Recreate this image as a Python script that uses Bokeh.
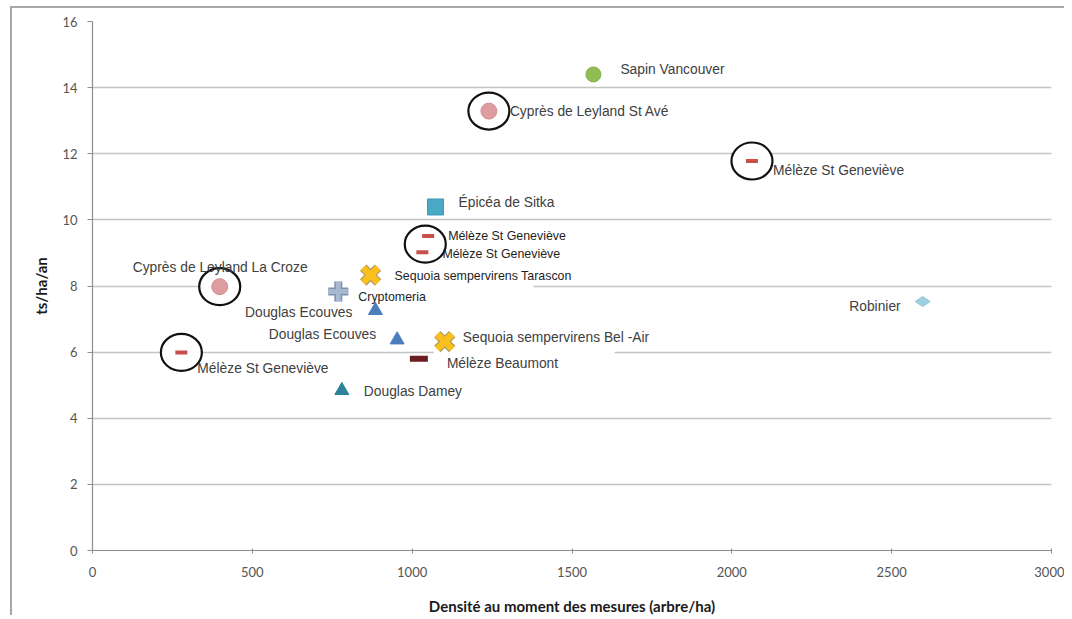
import math
from bokeh.plotting import figure
from bokeh.models import ColumnDataSource, Range1d
from bokeh.core.properties import value
from bokeh.embed import file_html
from bokeh.resources import INLINE

# ---------------- data ----------------
noms = ["Sapin Vancouver", "Cyprès de Leyland St Avé", "Mélèze St Geneviève",
        "Épicéa de Sitka", "Mélèze St Geneviève", "Mélèze St Geneviève",
        "Sequoia sempervirens  Tarascon", "Cyprès de Leyland La Croze", "Cryptomeria",
        "Douglas Ecouves", "Douglas Ecouves", "Sequoia sempervirens  Bel -Air",
        "Mélèze Beaumont", "Mélèze St Geneviève", "Douglas Damey", "Robinier"]
densite = [1567, 1240, 2063, 1073, 1050, 1032, 870, 398, 769, 885, 953, 1102,
           1021, 278, 780, 2597]
production = [14.4, 13.29, 11.78, 10.39, 9.51, 9.02, 8.33, 7.98, 7.83, 7.26, 6.37,
              6.32, 5.8, 5.99, 4.84, 7.53]
especes = ["sapin", "cypres", "meleze", "epicea", "meleze", "meleze", "sequoia",
           "cypres", "cryptomeria", "douglas_e", "douglas_e", "sequoia", "beaumont",
           "meleze", "douglas_d", "robinier"]
entoures = [[1], [2], [4, 5], [7], [13]]   # points circled on the chart

x_ticks = [0, 500, 1000, 1500, 2000, 2500, 3000]
y_ticks = [0, 2, 4, 6, 8, 10, 12, 14, 16]
x_title = "Densité au moment des mesures (arbre/ha)"
y_title = "ts/ha/an"

# ---------------- label styling (screen offsets) ----------------
lab_dx = [27, 21, 21, 23, 20, 20, 24, -87, 20, -23, -21, 18, 28, 16, 22, -22]
lab_dy = [-5, 0, 9, -4, 0, 2, 1, -19, 5, 2, -5, -4, 5, 16, 1, 5]
lab_align = ["left"] * 16
for i in (9, 10, 15):
    lab_align[i] = "right"
lab_size = ["13.8px"] * 16
lab_color = ["#404040"] * 16
for i in (4, 5, 6, 8):
    lab_size[i] = "12.4px"
    lab_color[i] = "#1e1e1e"
# white label boxes hiding parts of gridlines: (label index, centre dx px, dy px, width px)
masks = [(6, 16.5, 11, 293), (11, 79.5, 10, 181)]

FONT = "Liberation Sans"
FRAME_W, FRAME_H = 959, 530
X0, X1, Y0, Y1 = 0, 3000, 0, 16

p = figure(width=1054, height=609, x_range=Range1d(X0, X1), y_range=Range1d(Y0, Y1),
           output_backend="svg", toolbar_location=None,
           min_border_left=80, min_border_top=13, min_border_right=15,
           min_border_bottom=66)
p.styles = {"border-top": "2px solid #a8a8a8", "border-left": "2px solid #a8a8a8",
            "margin-left": "10px", "margin-top": "6px"}
p.outline_line_color = None
p.background_fill_color = "white"
p.border_fill_color = "white"

p.xgrid.visible = False
p.ygrid.grid_line_color = "#c4c4c4"
p.ygrid.grid_line_width = 1.5

p.xaxis.ticker = x_ticks
p.yaxis.ticker = y_ticks
for ax in (p.xaxis, p.yaxis):
    ax.axis_line_color = "#8c8c8c"
    ax.axis_line_width = 1.2
    ax.major_tick_line_color = "#8c8c8c"
    ax.minor_tick_line_color = None
    ax.major_label_text_font = "Lato"
    ax.major_label_text_font_size = "13px"
    ax.major_label_text_color = "#555555"
    ax.axis_label_text_font = "Lato"
    ax.axis_label_text_font_style = "bold"
    ax.axis_label_text_font_size = "15px"
    ax.axis_label_text_color = "#1a1a1a"
p.xaxis.major_tick_in = 2
p.xaxis.major_tick_out = 3
p.yaxis.major_tick_in = 0
p.yaxis.major_tick_out = 5
p.xaxis.major_label_standoff = 13
p.yaxis.major_label_standoff = 10
p.xaxis.axis_label = x_title
p.yaxis.axis_label = y_title
p.xaxis.axis_label_standoff = 17
p.yaxis.axis_label_standoff = 9

# white label boxes (masking gridlines as in the original)
ux = (X1 - X0) / FRAME_W
uy = (Y1 - Y0) / FRAME_H
p.rect(x=[densite[i] + dx * ux for i, dx, dy, w in masks],
       y=[production[i] - dy * uy for i, dx, dy, w in masks],
       width=[w for i, dx, dy, w in masks], height=5,
       width_units="screen", height_units="screen",
       fill_color="white", line_color=None)

# circles around highlighted points
cx = [sum(densite[i] for i in g) / len(g) for g in entoures]
cy = [sum(production[i] for i in g) / len(g) for g in entoures]
p.ellipse(x=cx, y=cy, width=41, height=37, width_units="screen", height_units="screen",
          fill_color="white", line_color="#111111", line_width=2.2)

def sub(kind):
    idx = [i for i, k in enumerate(especes) if k == kind]
    return ColumnDataSource(dict(x=[densite[i] for i in idx], y=[production[i] for i in idx]))

p.scatter("x", "y", source=sub("sapin"), marker="circle", size=15,
          fill_color="#90bd52", line_color="#82ad46")
p.scatter("x", "y", source=sub("cypres"), marker="circle", size=16,
          fill_color="#dc9ca0", line_color="#d49094")
p.scatter("x", "y", source=sub("epicea"), marker="square", size=16,
          fill_color="#4aaac6", line_color="#3f9ab5")
p.scatter("x", "y", source=sub("meleze"), marker="dash", size=12,
          line_color="#c94f4d", line_width=4)
p.scatter("x", "y", source=sub("beaumont"), marker="dash", size=18,
          line_color="#6b1d1f", line_width=6)
p.scatter("x", "y", source=sub("sequoia"), marker="x", size=21,
          line_color="#b09a5c", line_width=9)
p.scatter("x", "y", source=sub("sequoia"), marker="x", size=21,
          line_color="#fbc01c", line_width=6.5)
p.scatter("x", "y", source=sub("cryptomeria"), marker="cross", size=20,
          line_color="#7e90ad", line_width=8)
p.scatter("x", "y", source=sub("cryptomeria"), marker="cross", size=19,
          line_color="#a8b8d0", line_width=5)
p.scatter("x", "y", source=sub("douglas_e"), marker="triangle", size=14,
          fill_color="#4a7ebd", line_color="#4a7ebd")
p.scatter("x", "y", source=sub("douglas_d"), marker="triangle", size=14,
          fill_color="#2c8299", line_color="#2c8299")
p.scatter("x", "y", source=sub("robinier"), marker="diamond", size=15, angle=math.pi / 2,
          fill_color="#9dd0e0", line_color="#90c6d8")

labels = ColumnDataSource(dict(x=densite, y=production, text=noms, dx=lab_dx, dy=lab_dy,
                               align=lab_align, size=lab_size, color=lab_color))
p.text(x="x", y="y", text="text", x_offset="dx", y_offset="dy", text_align="align",
       text_baseline="middle", text_font=value(FONT), text_font_size="size",
       text_color="color", source=labels)

open("out.html", "w").write(file_html(p, INLINE))
